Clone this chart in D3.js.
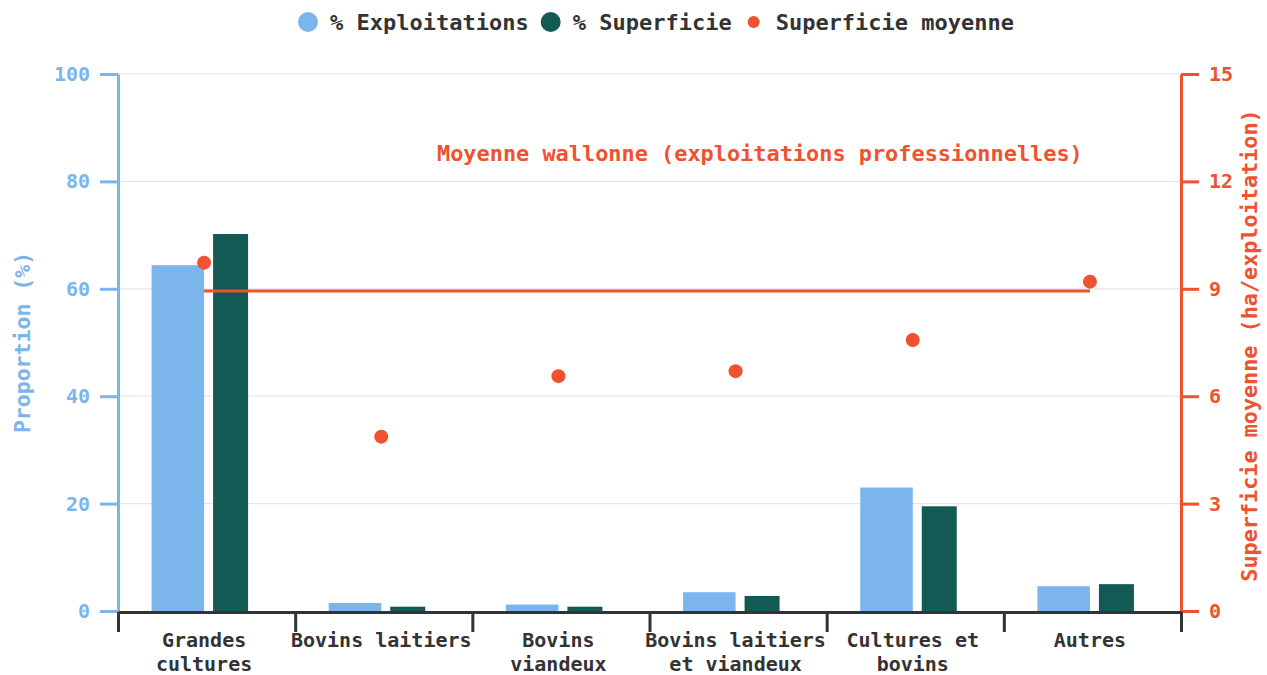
<!DOCTYPE html>
<html lang="fr">
<head>
<meta charset="utf-8">
<script src="https://cdn.jsdelivr.net/npm/d3@7"></script>
<style>
  html, body { margin: 0; padding: 0; background: #ffffff; }
  svg { display: block; font-family: "DejaVu Sans Mono", "Liberation Mono", monospace; font-weight: bold; }
</style>
</head>
<body>
<svg id="chart" width="1267" height="675"></svg>
<script>
// Orientations technico-économiques : part des exploitations, part de la superficie
// et superficie moyenne par exploitation.
const categories = [
  "Grandes cultures",
  "Bovins laitiers",
  "Bovins viandeux",
  "Bovins laitiers et viandeux",
  "Cultures et bovins",
  "Autres"
];
const tickLabels = [
  ["Grandes", "cultures"],
  ["Bovins laitiers"],
  ["Bovins", "viandeux"],
  ["Bovins laitiers", "et viandeux"],
  ["Cultures et", "bovins"],
  ["Autres"]
];
const pctExploitations = [64.4, 1.5, 1.2, 3.5, 23.0, 4.6];
const pctSuperficie    = [70.2, 0.8, 0.8, 2.8, 19.5, 5.0];
const superficieMoyenne = [9.73, 4.87, 6.56, 6.70, 7.57, 9.20];
const moyenneWallonne = 8.94;
const leftTicks  = [0, 20, 40, 60, 80, 100];
const rightTicks = [0, 3, 6, 9, 12, 15];

const BLUE = "#7cb5ec", GREEN = "#135a55", RED = "#f0512f", DARK = "#333333", GRID = "#e6e6e6";

const svg = d3.select("#chart");
const plot = { left: 118, right: 1181, top: 74, bottom: 611 };

const x = d3.scaleBand().domain(categories).range([plot.left, plot.right]).padding(0);
const xEdge = d3.scaleLinear().domain([0, categories.length]).range([plot.left, plot.right]);
const yL = d3.scaleLinear().domain([0, 100]).range([plot.bottom, plot.top]);
const yR = d3.scaleLinear().domain([0, 15]).range([plot.bottom, plot.top]);

// anchor of each category: the dot sits here, the two columns on either side
const anchor = c => x(c) + x.bandwidth() / 2 - 2.5;

// horizontal grid
svg.append("g").selectAll("line")
  .data(leftTicks.filter(t => t > 0))
  .join("line")
  .attr("x1", plot.left).attr("x2", plot.right)
  .attr("y1", d => yL(d)).attr("y2", d => yL(d))
  .attr("stroke", GRID).attr("stroke-width", 1.2);

// columns
const bars = svg.append("g");
bars.selectAll("rect.expl")
  .data(categories)
  .join("rect")
  .attr("class", "expl")
  .attr("x", c => anchor(c) - 52.5)
  .attr("width", 52.5)
  .attr("y", (c, i) => yL(pctExploitations[i]))
  .attr("height", (c, i) => yL(0) - yL(pctExploitations[i]))
  .attr("fill", BLUE);
bars.selectAll("rect.sup")
  .data(categories)
  .join("rect")
  .attr("class", "sup")
  .attr("x", c => anchor(c) + 9)
  .attr("width", 35)
  .attr("y", (c, i) => yL(pctSuperficie[i]))
  .attr("height", (c, i) => yL(0) - yL(pctSuperficie[i]))
  .attr("fill", GREEN);

// regional average reference line
const avgLine = d3.line().x(d => anchor(d)).y(() => yR(moyenneWallonne));
svg.append("path")
  .attr("d", avgLine([categories[0], categories[categories.length - 1]]))
  .attr("fill", "none").attr("stroke", RED).attr("stroke-width", 3);

svg.append("text")
  .attr("x", 437).attr("y", 161)
  .attr("fill", RED).attr("font-size", 21.9)
  .text("Moyenne wallonne (exploitations professionnelles)");

// average area per holding
svg.append("g").selectAll("circle")
  .data(categories)
  .join("circle")
  .attr("cx", c => anchor(c))
  .attr("cy", (c, i) => yR(superficieMoyenne[i]))
  .attr("r", 7)
  .attr("fill", RED);

// left axis
const gL = svg.append("g").attr("transform", `translate(${plot.left},0)`)
  .call(d3.axisLeft(yL).tickValues(leftTicks).tickSize(18).tickSizeOuter(0).tickPadding(10))
  .attr("font-family", null).attr("font-size", 20);
gL.selectAll("path, line").attr("stroke", BLUE).attr("stroke-width", 3);
gL.selectAll("text").attr("fill", BLUE);

svg.append("text")
  .attr("transform", `translate(30,${(plot.top + plot.bottom) / 2}) rotate(-90)`)
  .attr("text-anchor", "middle")
  .attr("fill", BLUE).attr("font-size", 21.5)
  .text("Proportion (%)");

// right axis
const gR = svg.append("g").attr("transform", `translate(${plot.right},0)`)
  .call(d3.axisRight(yR).tickValues(rightTicks).tickSize(18).tickSizeOuter(0).tickPadding(10))
  .attr("font-family", null).attr("font-size", 20);
gR.selectAll("path, line").attr("stroke", RED).attr("stroke-width", 3);
gR.selectAll("text").attr("fill", RED);

svg.append("text")
  .attr("transform", `translate(1257,${(plot.top + plot.bottom) / 2 + 3}) rotate(-90)`)
  .attr("text-anchor", "middle")
  .attr("fill", RED).attr("font-size", 21.8)
  .text("Superficie moyenne (ha/exploitation)");

// category axis with separators between groups
const gX = svg.append("g").attr("transform", `translate(0,${plot.bottom + 1})`)
  .call(d3.axisBottom(xEdge).ticks(categories.length).tickSize(20).tickSizeOuter(0).tickFormat(""));
gX.selectAll("path, line").attr("stroke", DARK).attr("stroke-width", 3);

const labels = svg.append("g").selectAll("text")
  .data(categories)
  .join("text")
  .attr("x", c => anchor(c))
  .attr("y", 647)
  .attr("text-anchor", "middle")
  .attr("fill", DARK).attr("font-size", 20);
labels.each(function(c, i) {
  d3.select(this).selectAll("tspan")
    .data(tickLabels[i])
    .join("tspan")
    .attr("x", anchor(c))
    .attr("dy", (d, j) => j === 0 ? 0 : 23.5)
    .text(d => d);
});

// legend
const legendItems = [
  { label: "% Exploitations", color: BLUE, r: 10 },
  { label: "% Superficie", color: GREEN, r: 10 },
  { label: "Superficie moyenne", color: RED, r: 6 }
];
const legend = svg.append("g").attr("transform", "translate(0,22)");
let lx = 298;
legendItems.forEach(it => {
  legend.append("circle").attr("cx", lx + 10).attr("cy", 0).attr("r", it.r).attr("fill", it.color);
  const t = legend.append("text")
    .attr("x", lx + 32).attr("y", 7.5)
    .attr("fill", DARK).attr("font-size", 22)
    .text(it.label);
  lx = lx + 32 + t.node().getComputedTextLength() + 12;
});
</script>
</body>
</html>
